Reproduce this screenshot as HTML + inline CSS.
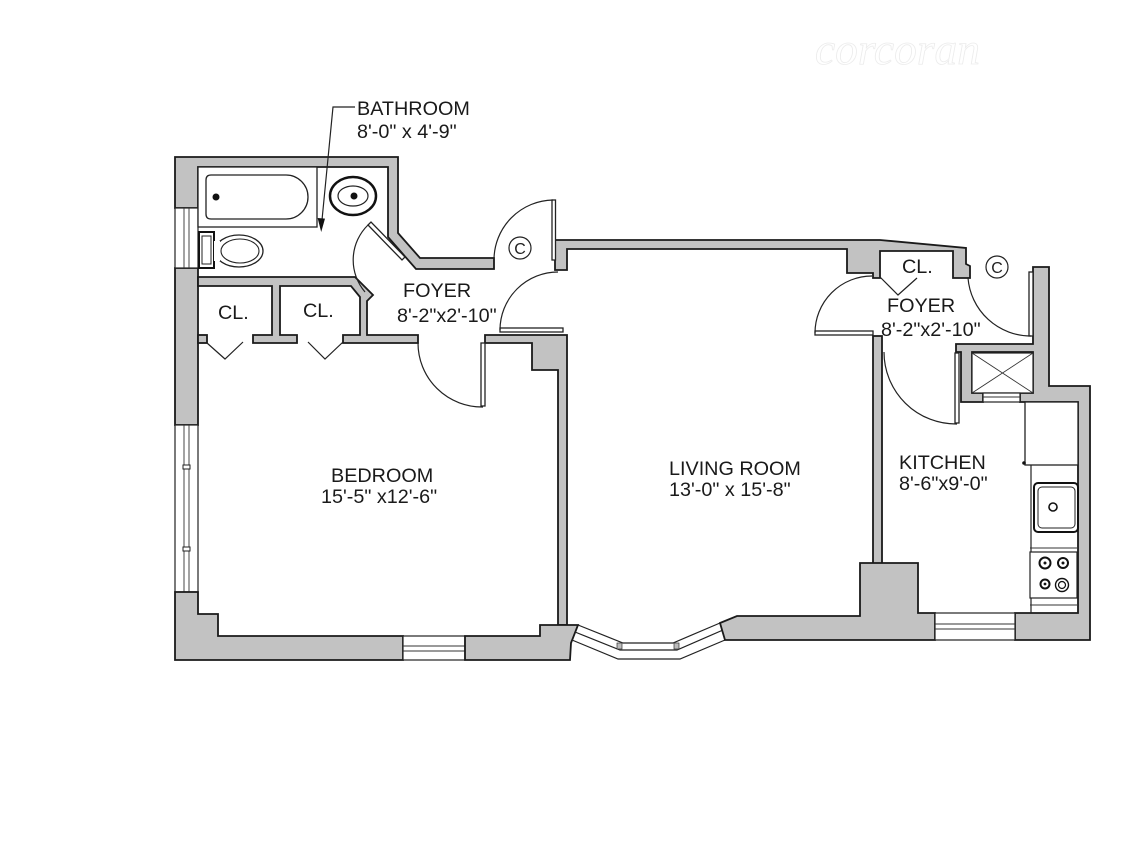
<!DOCTYPE html>
<html>
<head>
<meta charset="utf-8">
<style>
html,body{margin:0;padding:0;background:#fff;}
svg{display:block;}
.w{fill:#c2c2c2;stroke:#1a1a1a;stroke-width:1.8;stroke-linejoin:miter;}
.win{fill:#fff;stroke:#222;stroke-width:1.2;}
.l{fill:none;stroke:#222;stroke-width:1.2;}
.lt{fill:none;stroke:#333;stroke-width:0.9;}
.leaf{fill:#fff;stroke:#222;stroke-width:1.3;}
.t{font-family:"Liberation Sans",Arial,sans-serif;font-size:19.8px;fill:#1a1a1a;}
</style>
</head>
<body>
<svg width="1125" height="843" viewBox="0 0 1125 843" xmlns="http://www.w3.org/2000/svg">
<rect width="1125" height="843" fill="#fff"/>

<!-- logo -->
<text x="815" y="64" font-family="Liberation Serif, serif" font-style="italic" font-size="44" fill="#fff" stroke="#ececec" stroke-width="0.8" textLength="165" lengthAdjust="spacingAndGlyphs">corcoran</text>

<!-- ========== WALLS ========== -->
<polygon class="w" points="175,157 398,157 398,233 420,258 494,258 494,269 416,269 402,253 388,237 388,167 198,167 198,208 175,208"/>
<rect class="w" x="175" y="268" width="23" height="157"/>
<rect class="win" x="175" y="208" width="23" height="60"/>
<line class="lt" x1="184" y1="208" x2="184" y2="268"/>
<line class="lt" x1="189" y1="208" x2="189" y2="268"/>
<rect class="win" x="175" y="425" width="23" height="167"/>
<line class="lt" x1="184" y1="425" x2="184" y2="592"/>
<line class="lt" x1="189" y1="425" x2="189" y2="592"/>
<rect x="183" y="465" width="7" height="4" fill="#fff" stroke="#222" stroke-width="1"/>
<rect x="183" y="547" width="7" height="4" fill="#fff" stroke="#222" stroke-width="1"/>

<polygon class="w" points="198,277 355,277 373,295 367,301 367,335 418,335 418,343 343,343 343,335 360,335 360,297 351,286 280,286 280,335 297,335 297,343 253,343 253,335 272,335 272,286 198,286"/>
<rect class="w" x="198" y="335" width="9" height="8"/>

<polygon class="w" points="485,335 567,335 567,625 558,625 558,370 532,370 532,343 485,343"/>

<polygon class="w" points="175,592 198,592 198,614 218,614 218,636 403,636 403,660 175,660"/>
<rect class="win" x="403" y="636" width="62" height="24"/>
<line class="lt" x1="403" y1="646" x2="465" y2="646"/>
<line class="lt" x1="403" y1="651" x2="465" y2="651"/>
<polygon class="w" points="465,636 540,636 540,625 578,625 571,643 570,660 465,660"/>

<!-- bay window -->
<polyline class="l" points="578,625 623,643 673,643 720,623"/>
<polyline class="l" points="575,632 620,650 677,650 723,630"/>
<polyline class="l" points="572,640 618,659 680,659 725,640"/>
<rect x="617" y="643" width="5" height="6" fill="#bbb" stroke="#333" stroke-width="0.7"/>
<rect x="674" y="643" width="5" height="6" fill="#bbb" stroke="#333" stroke-width="0.7"/>

<polygon class="w" points="555,240 880,240 966,248 966,264 970,266 970,278 953,278 953,251 880,251 880,278 873,278 873,273 847,273 847,249 567,249 567,270 555,270"/>

<polygon class="w" points="1033,267 1049,267 1049,386 1090,386 1090,640 1015,640 1015,613 1078,613 1078,402 1020,402 1020,393 1033,393 1033,352 972,352 972,393 983,393 983,402 961,402 961,352 956,352 956,344 1033,344"/>
<rect x="972" y="353" width="61" height="40" fill="#fff" stroke="#222" stroke-width="1.2"/>
<line class="lt" x1="972" y1="353" x2="1033" y2="393"/>
<line class="lt" x1="1033" y1="353" x2="972" y2="393"/>
<rect class="win" x="983" y="393" width="37" height="9"/>
<line class="lt" x1="983" y1="397" x2="1020" y2="397"/>

<rect class="w" x="873" y="336" width="9" height="230"/>
<polygon class="w" points="720,623 737,616 860,616 860,563 918,563 918,613 935,613 935,640 725,640"/>
<rect class="win" x="935" y="613" width="80" height="27"/>
<line class="lt" x1="935" y1="624" x2="1015" y2="624"/>
<line class="lt" x1="935" y1="629" x2="1015" y2="629"/>

<!-- ========== DOORS ========== -->
<polygon class="leaf" points="368,225 371,222 405,257 402,260"/>
<path class="l" d="M368,225 A49,49 0 0 0 365,292"/>
<rect class="leaf" x="552" y="200" width="3.5" height="60"/>
<path class="l" d="M553,200 A60,60 0 0 0 494,260"/>
<rect class="leaf" x="500" y="328" width="63" height="4"/>
<path class="l" d="M500,330 A58,58 0 0 1 558,272"/>
<rect class="leaf" x="481" y="343" width="4" height="63"/>
<path class="l" d="M418,343 A64,64 0 0 0 483,407"/>
<rect class="leaf" x="815" y="331" width="58" height="4"/>
<path class="l" d="M815,333 A57,57 0 0 1 872,276"/>
<rect class="leaf" x="955" y="353" width="4" height="70"/>
<path class="l" d="M884,352 A72,72 0 0 0 957,424"/>
<rect class="leaf" x="1029" y="272" width="4" height="64"/>
<path class="l" d="M968,278 A63,63 0 0 0 1031,336"/>

<polyline class="l" stroke-width="1.6" points="207,343 225,359 243,342"/>
<polyline class="l" stroke-width="1.6" points="308,342 325,359 343,342"/>
<polyline class="l" stroke-width="1.6" points="880,277 898,295 917,278"/>

<circle cx="520" cy="248" r="11" fill="none" stroke="#222" stroke-width="1.2"/>
<text x="520" y="254" text-anchor="middle" font-family="Liberation Sans, sans-serif" font-size="16" fill="#222">C</text>
<circle cx="997" cy="267" r="11" fill="none" stroke="#222" stroke-width="1.2"/>
<text x="997" y="273" text-anchor="middle" font-family="Liberation Sans, sans-serif" font-size="16" fill="#222">C</text>

<!-- ========== FIXTURES ========== -->
<rect x="198" y="167" width="119" height="60" fill="#fff" stroke="#222" stroke-width="1.3"/>
<path d="M211,175 H286 A22,22 0 0 1 286,219 H211 Q206,219 206,214 V180 Q206,175 211,175 Z" fill="#fff" stroke="#222" stroke-width="1.3"/>
<circle cx="216" cy="197" r="3.5" fill="#111"/>
<ellipse cx="353" cy="196" rx="23" ry="19" fill="#fff" stroke="#111" stroke-width="2.5"/>
<ellipse cx="353" cy="196" rx="15" ry="10" fill="none" stroke="#222" stroke-width="1.2"/>
<circle cx="354" cy="196" r="3.5" fill="#111"/>
<rect x="199" y="232" width="15" height="36" fill="#fff" stroke="#111" stroke-width="2"/>
<rect x="202" y="236" width="9" height="28" fill="none" stroke="#222" stroke-width="1"/>
<ellipse cx="239" cy="251" rx="24" ry="16" fill="#fff" stroke="#222" stroke-width="1.3"/>
<ellipse cx="240" cy="251" rx="19" ry="12" fill="none" stroke="#222" stroke-width="1.1"/>
<rect x="214" y="241" width="6" height="20" fill="#fff" stroke="none"/>

<rect x="1025" y="402" width="53" height="63" fill="#fff" stroke="#222" stroke-width="1.3"/>
<circle cx="1024" cy="463" r="1.8" fill="#111"/>
<line class="l" x1="1031" y1="465" x2="1031" y2="613"/>
<rect x="1034" y="483" width="44" height="49" rx="4" fill="#fff" stroke="#111" stroke-width="2"/>
<rect x="1038" y="487" width="37" height="41" rx="4" fill="none" stroke="#222" stroke-width="1"/>
<circle cx="1053" cy="507" r="4" fill="none" stroke="#111" stroke-width="1.6"/>
<rect x="1030" y="552" width="47" height="46" fill="#fff" stroke="#222" stroke-width="1.2"/>
<line class="lt" x1="1030" y1="605" x2="1078" y2="605"/>
<line class="lt" x1="1030" y1="548" x2="1078" y2="548"/>
<circle cx="1045" cy="563" r="5.5" fill="none" stroke="#111" stroke-width="2"/>
<circle cx="1045" cy="563" r="1.5" fill="#111"/>
<circle cx="1063" cy="563" r="5" fill="none" stroke="#111" stroke-width="2"/>
<circle cx="1063" cy="563" r="1.5" fill="#111"/>
<circle cx="1045" cy="584" r="4.5" fill="none" stroke="#111" stroke-width="2"/>
<circle cx="1045" cy="584" r="1.4" fill="#111"/>
<circle cx="1062" cy="585" r="6.5" fill="none" stroke="#111" stroke-width="1.4"/>
<circle cx="1062" cy="585" r="3.5" fill="none" stroke="#111" stroke-width="1.2"/>

<!-- ========== LABELS ========== -->
<polyline class="l" points="355,107 333,107 322,220"/>
<polygon points="321.2,232 317.6,218 325,218.6" fill="#111"/>
<text class="t" x="357" y="115">BATHROOM</text>
<text class="t" x="357" y="138">8'-0" x 4'-9"</text>

<text class="t" x="218" y="319">CL.</text>
<text class="t" x="303" y="317">CL.</text>

<text class="t" x="403" y="297">FOYER</text>
<text class="t" x="397" y="322">8'-2"x2'-10"</text>

<text class="t" x="331" y="482">BEDROOM</text>
<text class="t" x="321" y="503">15'-5" x12'-6"</text>

<text class="t" x="669" y="475">LIVING ROOM</text>
<text class="t" x="669" y="496">13'-0" x 15'-8"</text>

<text class="t" x="899" y="469">KITCHEN</text>
<text class="t" x="899" y="490">8'-6"x9'-0"</text>

<text class="t" x="902" y="273">CL.</text>
<text class="t" x="887" y="312">FOYER</text>
<text class="t" x="881" y="336">8'-2"x2'-10"</text>
</svg>
</body>
</html>
